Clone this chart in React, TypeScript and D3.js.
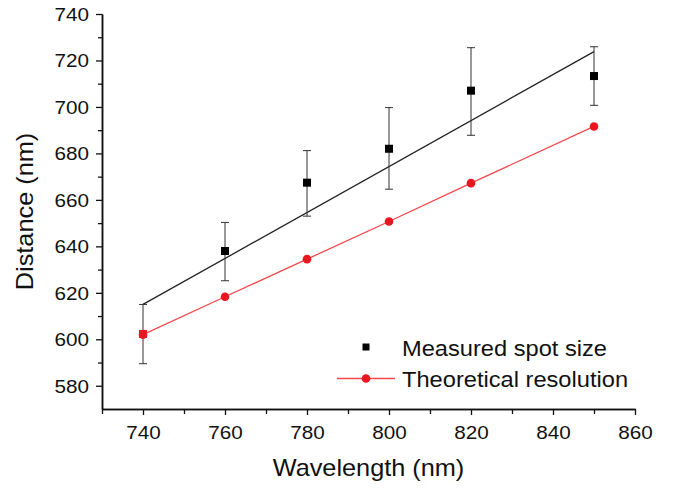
import React, { useRef, useEffect } from "react";
import * as d3 from "d3";

// wavelengths (nm)
const wavelengths = [740, 760, 780, 800, 820, 850];
// measured spot size with error bars (nm)
const measured = [602.3, 638, 667.4, 682, 707, 713.3];
const errLow = [589.5, 625.2, 653, 664.6, 687.8, 700.7];
const errHigh = [615, 650.3, 681.2, 699.7, 725.5, 725.9];
// theoretical resolution (nm)
const theoretical = [602, 618.3, 634.5, 650.7, 667.2, 691.6];
// linear fit through the measured points (endpoints)
const fitX = [740, 850];
const fitY = [615, 723.8];

const xTicks = [740, 760, 780, 800, 820, 840, 860];
const xMinor = [730, 750, 770, 790, 810, 830, 850];
const yTicks = [580, 600, 620, 640, 660, 680, 700, 720, 740];
const yMinor = [590, 610, 630, 650, 670, 690, 710, 730];

const legendLabels = ["Measured spot size", "Theoretical resolution"];

const FONT = "'Liberation Sans', Arial, sans-serif";
const RED = "#e8161e";

const App = () => {
  const svgRef = useRef<SVGSVGElement>(null);

  useEffect(() => {
    const width = 680;
    const height = 489;
    const margin = { top: 14, right: 45, bottom: 80, left: 102 };

    const svg = d3.select(svgRef.current);
    svg.selectAll("*").remove();

    const x = d3
      .scaleLinear()
      .domain([730, 860])
      .range([margin.left, width - margin.right]);
    const y = d3
      .scaleLinear()
      .domain([570, 740])
      .range([height - margin.bottom, margin.top]);

    const x0 = height - margin.bottom;

    // AXES
    const styleAxis = (g) => {
      g.select(".domain").attr("stroke", "#111").attr("stroke-width", 1.5);
      g.selectAll(".tick line").attr("stroke", "#111").attr("stroke-width", 1.3);
    };

    svg
      .append("g")
      .attr("transform", `translate(0,${x0})`)
      .call(d3.axisBottom(x).tickValues(xMinor).tickSize(5).tickSizeOuter(0).tickFormat(() => ""))
      .call(styleAxis);

    const xg = svg
      .append("g")
      .attr("transform", `translate(0,${x0})`)
      .call(d3.axisBottom(x).tickValues(xTicks).tickSize(6).tickSizeOuter(0))
      .call(styleAxis);
    xg.selectAll("text")
      .attr("y", 0)
      .attr("dy", 0)
      .attr("transform", "translate(0,30) scale(1.15,1)")
      .style("font-family", FONT)
      .style("font-size", "18px")
      .attr("fill", "#111");

    svg
      .append("g")
      .attr("transform", `translate(${margin.left},0)`)
      .call(d3.axisLeft(y).tickValues(yMinor).tickSize(4).tickSizeOuter(0).tickFormat(() => ""))
      .call(styleAxis);

    const yg = svg
      .append("g")
      .attr("transform", `translate(${margin.left},0)`)
      .call(d3.axisLeft(y).tickValues(yTicks).tickSize(6).tickSizeOuter(0))
      .call(styleAxis);
    yg.selectAll("text")
      .attr("x", 0)
      .attr("dy", "0.35em")
      .attr("transform", "translate(-13,0) scale(1.15,1)")
      .style("font-family", FONT)
      .style("font-size", "18px")
      .attr("fill", "#111");

    // AXIS TITLES
    svg
      .append("text")
      .attr("transform", `translate(${(margin.left + width - margin.right) / 2},476) scale(1.1,1)`)
      .attr("text-anchor", "middle")
      .style("font-family", FONT)
      .style("font-size", "23px")
      .attr("fill", "#111")
      .text("Wavelength (nm)");

    svg
      .append("text")
      .attr("transform", `translate(33,${(margin.top + x0) / 2}) rotate(-90) scale(1.1,1)`)
      .attr("text-anchor", "middle")
      .style("font-family", FONT)
      .style("font-size", "23px")
      .attr("fill", "#111")
      .text("Distance (nm)");

    // FIT LINE
    svg
      .append("path")
      .datum(fitX.map((v, i) => [v, fitY[i]]))
      .attr("fill", "none")
      .attr("stroke", "#222")
      .attr("stroke-width", 1.3)
      .attr("d", d3.line().x((d) => x(d[0])).y((d) => y(d[1])));

    // ERROR BARS
    const cap = 4;
    const eb = svg
      .append("g")
      .attr("stroke", "#333")
      .attr("stroke-width", 1)
      .selectAll("g")
      .data(wavelengths)
      .join("g");
    eb.append("line")
      .attr("x1", (d) => x(d))
      .attr("x2", (d) => x(d))
      .attr("y1", (d, i) => y(errLow[i]))
      .attr("y2", (d, i) => y(errHigh[i]));
    eb.append("line")
      .attr("x1", (d) => x(d) - cap)
      .attr("x2", (d) => x(d) + cap)
      .attr("y1", (d, i) => y(errLow[i]))
      .attr("y2", (d, i) => y(errLow[i]));
    eb.append("line")
      .attr("x1", (d) => x(d) - cap)
      .attr("x2", (d) => x(d) + cap)
      .attr("y1", (d, i) => y(errHigh[i]))
      .attr("y2", (d, i) => y(errHigh[i]));

    // MEASURED SQUARES (first one is hidden under the red point, drawn red like the original)
    const sq = 8;
    svg
      .append("g")
      .selectAll("rect")
      .data(wavelengths)
      .join("rect")
      .attr("x", (d) => x(d) - sq / 2)
      .attr("y", (d, i) => y(measured[i]) - sq / 2)
      .attr("width", sq)
      .attr("height", sq)
      .attr("fill", (d, i) => (Math.abs(measured[i] - theoretical[i]) < 2 ? RED : "#000"));

    // THEORETICAL LINE + DOTS
    svg
      .append("path")
      .datum(wavelengths.map((v, i) => [v, theoretical[i]]))
      .attr("fill", "none")
      .attr("stroke", "#f2484c")
      .attr("stroke-width", 1.3)
      .attr("d", d3.line().x((d) => x(d[0])).y((d) => y(d[1])));

    svg
      .append("g")
      .selectAll("circle")
      .data(wavelengths)
      .join("circle")
      .attr("cx", (d) => x(d))
      .attr("cy", (d, i) => y(theoretical[i]))
      .attr("r", 4.3)
      .attr("fill", RED);

    // LEGEND
    const lg = svg.append("g").attr("transform", "translate(366,0)");
    lg.append("rect")
      .attr("x", -sq / 2 + 0.5)
      .attr("y", 347 - sq / 2 + 0.5)
      .attr("width", sq - 1)
      .attr("height", sq - 1)
      .attr("fill", "#000");
    lg.append("line")
      .attr("x1", -29)
      .attr("x2", 29)
      .attr("y1", 378.5)
      .attr("y2", 378.5)
      .attr("stroke", "#f2484c")
      .attr("stroke-width", 1.3);
    lg.append("circle").attr("cx", 0).attr("cy", 378.5).attr("r", 4.3).attr("fill", RED);
    lg.selectAll("text.lbl")
      .data(legendLabels)
      .join("text")
      .attr("class", "lbl")
      .attr("transform", (d, i) => `translate(36,${355.5 + i * 31.5}) scale(1.1,1)`)
      .style("font-family", FONT)
      .style("font-size", "21.5px")
      .attr("fill", "#111")
      .text((d) => d);
  }, []);

  return (
    <svg
      ref={svgRef}
      width={680}
      height={489}
      style={{ position: "absolute", left: 0, top: 0, background: "#fff" }}
    ></svg>
  );
};

export default App;
